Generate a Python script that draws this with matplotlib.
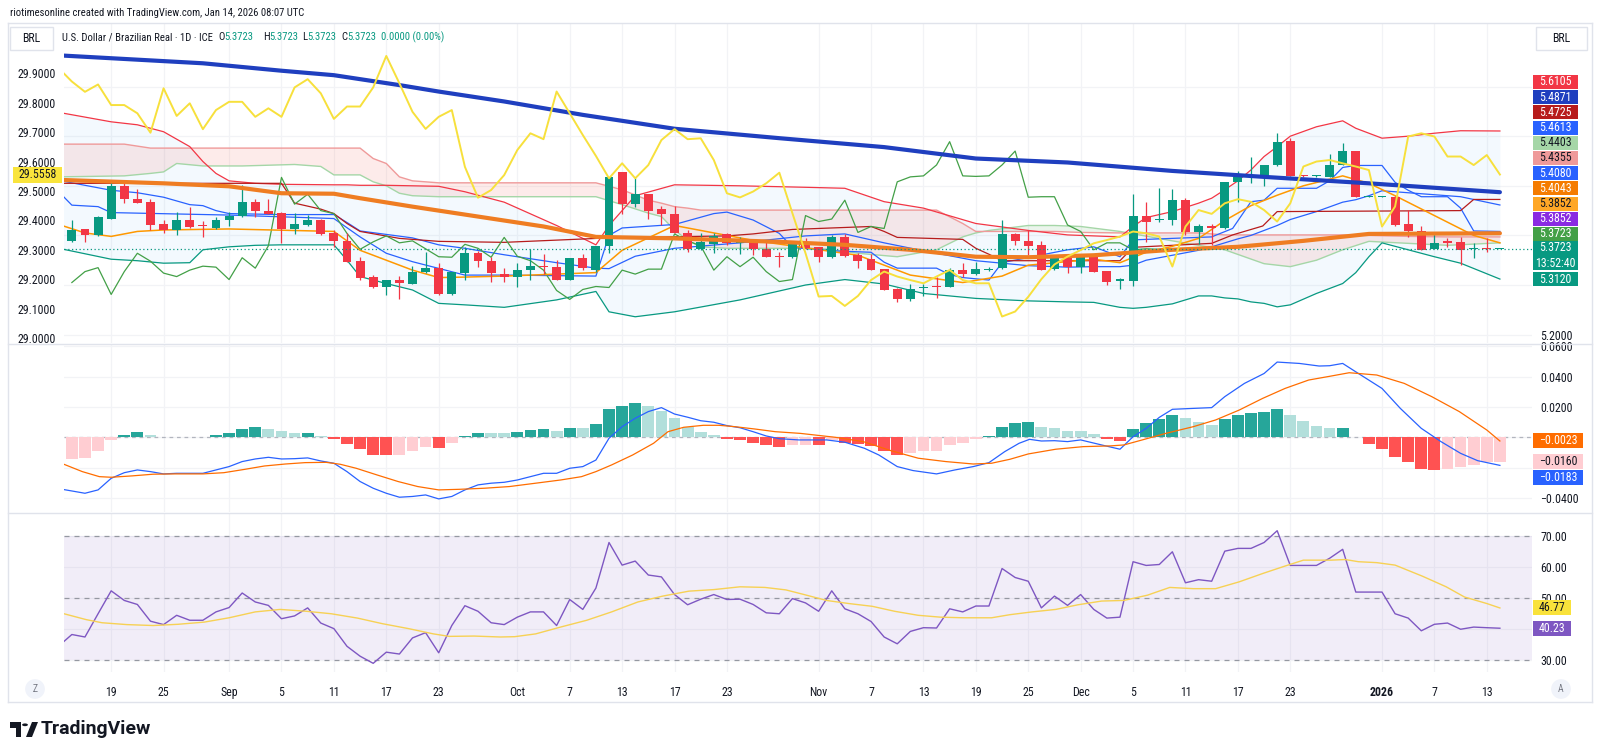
import numpy as np
import matplotlib.pyplot as plt
from matplotlib import font_manager
from matplotlib.patches import Polygon, Circle, Rectangle
from matplotlib.ticker import FuncFormatter, FixedFormatter

names = {f.name for f in font_manager.fontManager.ttflist}
if 'Liberation Sans Narrow' in names:
    FONT, K = 'Liberation Sans Narrow', 1.0
elif 'Roboto Condensed' in names:
    FONT, K = 'Roboto Condensed', 1.0
elif 'Roboto' in names:
    FONT, K = 'Roboto', 0.86
else:
    FONT, K = 'Liberation Sans', 0.86
plt.rcParams['font.family'] = [FONT, 'DejaVu Sans']

W, H = 1600, 756
INK = '#131722'
UP, DN = '#089981', '#F23645'
GRID = '#F2F3F6'
SEP = '#E0E3EB'
FS = 8.6 * K

# ---------------- USD/BRL daily bars, Aug 14 2025 .. Jan 14 2026 ----------------
opens = [5.389, 5.412, 5.400, 5.434, 5.500, 5.473, 5.467, 5.423, 5.410, 5.431,
         5.420, 5.414, 5.432, 5.439, 5.468, 5.450, 5.446, 5.412, 5.421, 5.432,
         5.404, 5.389, 5.348, 5.317, 5.297, 5.310, 5.303, 5.327, 5.335, 5.281,
         5.325, 5.364, 5.349, 5.322, 5.317, 5.330, 5.338, 5.337, 5.311, 5.355,
         5.330, 5.379, 5.527, 5.463, 5.483, 5.454, 5.444, 5.404, 5.372, 5.383,
         5.403, 5.384, 5.389, 5.373, 5.358, 5.356, 5.382, 5.376, 5.356, 5.396,
         5.360, 5.352, 5.332, 5.291, 5.271, 5.294, 5.298, 5.297, 5.330, 5.322,
         5.331, 5.334, 5.403, 5.389, 5.381, 5.332, 5.357, 5.337, 5.356, 5.328,
         5.309, 5.309, 5.440, 5.431, 5.431, 5.471, 5.406, 5.418, 5.414, 5.508,
         5.519, 5.520, 5.542, 5.591, 5.520, 5.519, 5.518, 5.542, 5.570, 5.477,
         5.477, 5.478, 5.423, 5.408, 5.373, 5.389, 5.387, 5.372, 5.373, 5.3723]
highs = [5.431, 5.413, 5.440, 5.508, 5.505, 5.493, 5.473, 5.431, 5.447, 5.457,
         5.430, 5.438, 5.448, 5.502, 5.473, 5.473, 5.448, 5.446, 5.442, 5.434,
         5.411, 5.404, 5.357, 5.320, 5.311, 5.319, 5.338, 5.366, 5.344, 5.327,
         5.377, 5.369, 5.356, 5.334, 5.344, 5.372, 5.363, 5.350, 5.355, 5.363,
         5.379, 5.518, 5.528, 5.518, 5.484, 5.459, 5.459, 5.411, 5.405, 5.405,
         5.405, 5.397, 5.392, 5.386, 5.367, 5.389, 5.395, 5.377, 5.401, 5.403,
         5.365, 5.363, 5.333, 5.293, 5.302, 5.303, 5.317, 5.334, 5.344, 5.347,
         5.336, 5.432, 5.404, 5.411, 5.389, 5.357, 5.358, 5.357, 5.357, 5.329,
         5.315, 5.483, 5.467, 5.496, 5.493, 5.476, 5.424, 5.424, 5.508, 5.529,
         5.559, 5.542, 5.606, 5.596, 5.521, 5.521, 5.565, 5.586, 5.571, 5.479,
         5.479, 5.479, 5.451, 5.418, 5.402, 5.394, 5.396, 5.384, 5.394, 5.3723]
lows = [5.387, 5.386, 5.399, 5.433, 5.465, 5.465, 5.411, 5.404, 5.401, 5.414,
        5.397, 5.413, 5.418, 5.438, 5.438, 5.443, 5.384, 5.403, 5.418, 5.401,
        5.377, 5.346, 5.310, 5.294, 5.279, 5.271, 5.302, 5.324, 5.279, 5.280,
        5.311, 5.337, 5.307, 5.307, 5.297, 5.310, 5.322, 5.310, 5.310, 5.330,
        5.327, 5.364, 5.443, 5.458, 5.434, 5.421, 5.404, 5.367, 5.371, 5.364,
        5.381, 5.362, 5.360, 5.356, 5.336, 5.355, 5.373, 5.346, 5.355, 5.356,
        5.334, 5.330, 5.289, 5.265, 5.268, 5.278, 5.273, 5.295, 5.317, 5.321,
        5.329, 5.333, 5.381, 5.360, 5.330, 5.331, 5.325, 5.325, 5.327, 5.301,
        5.291, 5.298, 5.387, 5.428, 5.421, 5.401, 5.383, 5.381, 5.413, 5.468,
        5.505, 5.500, 5.539, 5.520, 5.518, 5.518, 5.517, 5.541, 5.477, 5.477,
        5.477, 5.418, 5.397, 5.371, 5.372, 5.377, 5.340, 5.354, 5.367, 5.3723]
closes = [5.411, 5.400, 5.438, 5.500, 5.473, 5.466, 5.421, 5.410, 5.431, 5.416,
          5.418, 5.432, 5.440, 5.468, 5.450, 5.444, 5.413, 5.422, 5.432, 5.403,
          5.389, 5.347, 5.315, 5.295, 5.310, 5.305, 5.327, 5.335, 5.281, 5.327,
          5.364, 5.348, 5.324, 5.317, 5.330, 5.338, 5.336, 5.311, 5.355, 5.334,
          5.379, 5.517, 5.463, 5.483, 5.450, 5.444, 5.404, 5.372, 5.387, 5.399,
          5.385, 5.389, 5.373, 5.357, 5.356, 5.382, 5.374, 5.356, 5.396, 5.358,
          5.349, 5.330, 5.289, 5.271, 5.291, 5.297, 5.295, 5.330, 5.322, 5.332,
          5.332, 5.403, 5.389, 5.379, 5.330, 5.357, 5.337, 5.356, 5.327, 5.307,
          5.311, 5.440, 5.428, 5.433, 5.471, 5.406, 5.418, 5.414, 5.508, 5.518,
          5.520, 5.542, 5.589, 5.520, 5.519, 5.520, 5.542, 5.570, 5.477, 5.478,
          5.478, 5.421, 5.408, 5.371, 5.385, 5.385, 5.371, 5.373, 5.372, 5.3723]

# yellow overlay symbol (left scale), one value per bar starting the day before the first bar
overlay = [29.917, 29.872, 29.837, 29.862, 29.792, 29.792, 29.764, 29.698, 29.849, 29.755,
           29.798, 29.710, 29.775, 29.803, 29.803, 29.752, 29.781, 29.752, 29.852, 29.880,
           29.832, 29.745, 29.787, 29.787, 29.852, 29.959, 29.866, 29.769, 29.711, 29.752,
           29.775, 29.582, 29.477, 29.503, 29.554, 29.639, 29.696, 29.676, 29.838, 29.764,
           29.690, 29.619, 29.543, 29.594, 29.543, 29.588, 29.673, 29.710, 29.676, 29.679,
           29.605, 29.492, 29.478, 29.498, 29.526, 29.562, 29.424, 29.288, 29.141, 29.143,
           29.109, 29.143, 29.197, 29.226, 29.209, 29.197, 29.186, 29.209, 29.231, 29.197,
           29.186, 29.186, 29.073, 29.090, 29.140, 29.200, 29.250, 29.277, 29.299, 29.322,
           29.333, 29.345, 29.362, 29.356, 29.345, 29.243, 29.379, 29.435, 29.422, 29.458,
           29.472, 29.463, 29.435, 29.396, 29.458, 29.583, 29.600, 29.605, 29.594, 29.583,
           29.571, 29.379, 29.447, 29.685, 29.696, 29.685, 29.617, 29.617, 29.588, 29.622,
           29.5558]

# moving averages (bar index, value)
ma_long_idx = [-1, 10, 16, 20, 25, 28, 33, 39, 46, 54, 62, 69, 76, 84, 91, 99, 109]
ma_long = [5.763, 5.747, 5.732, 5.723, 5.703, 5.690, 5.670, 5.643, 5.615, 5.596, 5.578,
           5.555, 5.547, 5.530, 5.518, 5.505, 5.4871]
ma_mid_idx = [-1, 7, 12, 16, 20, 22, 26, 30, 33, 36, 40, 46, 54, 59, 64, 69, 73, 78, 84,
              89, 94, 99, 109]
ma_mid = [5.512, 5.505, 5.499, 5.485, 5.484, 5.475, 5.458, 5.442, 5.430, 5.418, 5.397,
          5.394, 5.387, 5.381, 5.371, 5.357, 5.356, 5.360, 5.371, 5.377, 5.389, 5.403, 5.4043]
ema_idx = [-1, 1, 3, 5, 7, 12, 20, 22, 24, 26, 28, 30, 33, 40, 42, 44, 46, 48, 52, 56,
           60, 64, 68, 71, 73, 78, 80, 82, 84, 86, 88, 90, 92, 94, 97, 99, 101, 104, 107, 109]
ema = [5.422, 5.405, 5.398, 5.408, 5.411, 5.413, 5.408, 5.370, 5.350, 5.330,
       5.315, 5.316, 5.318, 5.325, 5.370, 5.395, 5.420, 5.410, 5.390, 5.375,
       5.360, 5.320, 5.305, 5.318, 5.340, 5.352, 5.345, 5.366, 5.378, 5.394,
       5.430, 5.460, 5.481, 5.500, 5.520, 5.505, 5.480, 5.440, 5.400, 5.385]

# bands
bb_idx = [-1, 3, 5, 7, 9, 10, 11, 12, 14, 16, 20, 21, 22, 24, 26, 28, 30, 33, 37, 40,
          41, 43, 46, 51, 56, 59, 62, 65, 69, 73, 76, 78, 80, 81, 82, 84, 86, 87, 88, 89,
          90, 91, 92, 93, 95, 97, 98, 99, 100, 102, 104, 106, 109]
bb_upper = [5.648, 5.629, 5.623, 5.609, 5.579, 5.549, 5.525, 5.510, 5.505, 5.503,
            5.502, 5.502, 5.501, 5.501, 5.500, 5.499, 5.488, 5.467, 5.420, 5.381,
            5.420, 5.480, 5.502, 5.500, 5.497, 5.495, 5.468, 5.455, 5.424, 5.410,
            5.401, 5.399, 5.397, 5.418, 5.436, 5.448, 5.465, 5.475, 5.492, 5.510,
            5.532, 5.559, 5.579, 5.600, 5.619, 5.631, 5.616, 5.606, 5.596, 5.600,
            5.606, 5.611, 5.6105]
bb_lower = [5.374, 5.352, 5.349, 5.344, 5.345, 5.371, 5.374, 5.377, 5.380, 5.381,
            5.381, 5.350, 5.317, 5.303, 5.290, 5.263, 5.260, 5.255, 5.270, 5.287,
            5.246, 5.236, 5.246, 5.270, 5.300, 5.311, 5.302, 5.283, 5.273, 5.268,
            5.266, 5.265, 5.255, 5.253, 5.255, 5.262, 5.278, 5.278, 5.274, 5.272,
            5.266, 5.263, 5.256, 5.260, 5.283, 5.303, 5.325, 5.357, 5.385, 5.371,
            5.357, 5.344, 5.312]
bb_basis = [5.511, 5.491, 5.486, 5.477, 5.462, 5.460, 5.450, 5.444, 5.443, 5.442,
            5.442, 5.426, 5.409, 5.402, 5.395, 5.381, 5.374, 5.361, 5.345, 5.334,
            5.333, 5.358, 5.374, 5.385, 5.399, 5.403, 5.385, 5.369, 5.349, 5.339,
            5.336, 5.337, 5.337, 5.340, 5.350, 5.360, 5.370, 5.377, 5.385, 5.393,
            5.400, 5.410, 5.420, 5.432, 5.448, 5.467, 5.472, 5.480, 5.490, 5.486,
            5.482, 5.478, 5.4613]

# ichimoku
tenkan_idx = [-1, 0, 2, 3, 12, 20, 22, 24, 26, 30, 33, 40, 41, 42, 46, 49, 50, 52, 54, 55,
              58, 61, 62, 63, 66, 67, 68, 70, 71, 76, 78, 80, 81, 87, 88.6, 90, 91, 92, 95, 96,
              97, 98, 100, 101, 102, 103, 105, 106, 107, 109]
tenkan = [5.488, 5.461, 5.458, 5.446, 5.441, 5.434, 5.397, 5.364, 5.347, 5.320,
          5.320, 5.318, 5.400, 5.415, 5.422, 5.444, 5.447, 5.431, 5.404, 5.376,
          5.369, 5.366, 5.346, 5.334, 5.334, 5.321, 5.315, 5.310, 5.345, 5.371,
          5.377, 5.357, 5.391, 5.397, 5.414, 5.468, 5.471, 5.495, 5.495, 5.510,
          5.537, 5.541, 5.541, 5.507, 5.491, 5.478, 5.478, 5.455, 5.409, 5.408]
kijun_idx = [-1, 16, 17, 19, 20, 21, 22, 25, 28, 33, 41, 50, 52, 55, 61, 62, 63, 68, 69,
             70, 71, 80, 81, 87, 88.6, 90.9, 92, 106, 107, 109]
kijun = [5.505, 5.505, 5.465, 5.453, 5.444, 5.424, 5.408, 5.394, 5.388, 5.386,
         5.395, 5.399, 5.403, 5.412, 5.418, 5.408, 5.396, 5.392, 5.374, 5.362,
         5.349, 5.349, 5.376, 5.384, 5.401, 5.419, 5.448, 5.450, 5.4725, 5.4725]
cloud_idx = [-1, 4, 6, 7, 8, 10, 13, 17, 19, 20, 22, 23, 24, 25, 26, 28, 31, 40, 42, 44,
             45, 46, 47, 48, 50, 57, 60, 63, 66, 68, 69, 70, 73, 75, 77, 80, 84, 86, 88, 91,
             93, 95, 97, 99, 102, 105, 109]
span_b = [5.584, 5.584, 5.576, 5.576, 5.576, 5.576, 5.576, 5.576, 5.576, 5.576,
          5.576, 5.555, 5.545, 5.518, 5.510, 5.506, 5.506, 5.506, 5.492, 5.471,
          5.465, 5.458, 5.455, 5.451, 5.451, 5.451, 5.451, 5.451, 5.451, 5.424,
          5.408, 5.408, 5.408, 5.408, 5.406, 5.405, 5.405, 5.405, 5.401, 5.401,
          5.401, 5.401, 5.401, 5.400, 5.398, 5.397, 5.397]
span_a = [5.518, 5.520, 5.525, 5.528, 5.545, 5.540, 5.540, 5.543, 5.539, 5.522,
          5.522, 5.508, 5.500, 5.485, 5.480, 5.478, 5.478, 5.478, 5.462, 5.445,
          5.438, 5.411, 5.390, 5.377, 5.374, 5.374, 5.364, 5.357, 5.371, 5.397,
          5.405, 5.410, 5.420, 5.420, 5.418, 5.408, 5.389, 5.380, 5.371, 5.343,
          5.337, 5.350, 5.371, 5.388, 5.384, 5.380, 5.385]
LAG = 25  # lagging span drawn this many bars back

# MACD (12, 26, 9)
macd_hist = [-0.0143, -0.0132, -0.0086, -0.0016, 0.0017, 0.0036, 0.0017, 0.0005, 0.0006, 0.0003,
             0.0003, 0.0017, 0.0032, 0.0058, 0.0067, 0.0058, 0.0043, 0.0030, 0.0032, 0.0010,
             -0.0008, -0.0042, -0.0077, -0.0112, -0.0117, -0.0115, -0.0086, -0.0060, -0.0067, -0.0038,
             0.0010, 0.0030, 0.0030, 0.0029, 0.0036, 0.0049, 0.0058, 0.0043, 0.0064, 0.0064,
             0.0089, 0.0187, 0.0209, 0.0228, 0.0206, 0.0174, 0.0130, 0.0071, 0.0036, 0.0015,
             -0.0008, -0.0016, -0.0034, -0.0049, -0.0064, -0.0049, -0.0047, -0.0052, -0.0016, -0.0038,
             -0.0042, -0.0055, -0.0086, -0.0115, -0.0100, -0.0090, -0.0086, -0.0049, -0.0034, -0.0008,
             0.0012, 0.0071, 0.0095, 0.0102, 0.0071, 0.0064, 0.0043, 0.0043, 0.0023, -0.0008,
             -0.0021, 0.0058, 0.0095, 0.0119, 0.0148, 0.0126, 0.0102, 0.0080, 0.0124, 0.0148,
             0.0159, 0.0168, 0.0187, 0.0148, 0.0110, 0.0075, 0.0062, 0.0064, 0.0000, -0.0045,
             -0.0073, -0.0128, -0.0163, -0.0205, -0.0213, -0.0209, -0.0192, -0.0181, -0.0163, -0.0160]
macd_idx = [-1, 1, 2, 3, 4, 5, 6, 7, 8, 10, 11, 12, 13, 14, 15, 16, 17, 18, 19, 20,
            21, 22, 23, 24, 25, 26, 27, 28, 29, 30, 31, 32, 33, 34, 35, 36, 37, 38, 39, 40,
            41, 42, 43, 44, 45, 46, 47, 48, 49, 50, 51, 52, 53, 54, 55.5, 57.6, 59, 60.5, 61.6, 63,
            64.2, 66, 67.4, 68.8, 70, 71.2, 72.3, 73.1, 74, 75, 76, 77, 78.6, 80, 81, 82, 83, 84,
            85.6, 87, 88, 89.5, 91, 92, 93.7, 95.2, 96, 97, 98.2, 100, 101.4, 103, 104.5, 106,
            107.3, 109]
macd_line = [-0.0336, -0.0366, -0.0344, -0.0268, -0.0231, -0.0213, -0.0224, -0.0239, -0.0235, -0.0235,
             -0.0213, -0.0191, -0.0158, -0.0141, -0.0130, -0.0141, -0.0139, -0.0134, -0.0154, -0.0169,
             -0.0224, -0.0289, -0.0333, -0.0366, -0.0392, -0.0387, -0.0377, -0.0403, -0.0387, -0.0344,
             -0.0311, -0.0300, -0.0294, -0.0279, -0.0257, -0.0235, -0.0235, -0.0202, -0.0191, -0.0148,
             -0.0005, 0.0071, 0.0126, 0.0170, 0.0196, 0.0154, 0.0133, 0.0110, 0.0100, 0.0078,
             0.0064, 0.0038, 0.0010, -0.0008, -0.0016, -0.0016, -0.0031, -0.0071, -0.0115, -0.0191,
             -0.0217, -0.0239, -0.0213, -0.0191, -0.0165, -0.0093, -0.0038, -0.0012, -0.0023, -0.0021,
             -0.0027, -0.0016, -0.0049, -0.0077, 0.0005, 0.0060, 0.0132, 0.0185, 0.0191, 0.0196,
             0.0268, 0.0355, 0.0420, 0.0495, 0.0486, 0.0469, 0.0471, 0.0486, 0.0420, 0.0322,
             0.0191, 0.0060, -0.0027, -0.0104, -0.0152, -0.0183]
signal_idx = [-0.6, 0.8, 2.1, 3, 4.6, 6.2, 7.8, 10, 11.6, 13.2, 14.7, 16.3, 17.8, 19.4, 20.5,
              21.7, 23.3, 24.9, 26.4, 28, 29.6, 31.5, 33.4, 35.4, 37.3, 38.9, 40, 41.2, 42.8,
              44.4, 45.5, 46.7, 48.2, 49.4, 50.6, 52.1, 53.7, 55.6, 58.3, 60.4, 62.5, 64.6, 66.7,
              68.8, 70.2, 71.6, 73, 75.1, 77.2, 79.3, 80.3, 81.7, 83.5, 85.6, 87.3, 89.1, 90.9,
              92.6, 94.4, 96.1, 97.5, 99.6, 101.7, 103.8, 105.9, 108, 109]
signal_line = [-0.0176, -0.0224, -0.0257, -0.0261, -0.0252, -0.0241, -0.0239, -0.0239, -0.0231,
               -0.0209, -0.0187, -0.0174, -0.0165, -0.0163, -0.0176, -0.0202, -0.0246, -0.0289,
               -0.0322, -0.0344, -0.0340, -0.0333, -0.0322, -0.0300, -0.0279, -0.0257, -0.0224,
               -0.0180, -0.0115, -0.0038, 0.0038, 0.0067, 0.0080, 0.0080, 0.0071, 0.0056, 0.0038,
               0.0027, 0.0001, -0.0027, -0.0086, -0.0136, -0.0158, -0.0174, -0.0169, -0.0143,
               -0.0108, -0.0077, -0.0060, -0.0055, -0.0049, -0.0016, 0.0027, 0.0071, 0.0115,
               0.0180, 0.0257, 0.0322, 0.0377, 0.0403, 0.0425, 0.0410, 0.0355, 0.0268, 0.0170,
               0.0049, -0.0023]

# RSI (14) per bar, starting the day before the first bar, and its moving average
rsi = [34.5, 38.2, 37.4, 44.9, 52.3, 49.2, 47.9, 42.5, 41.4, 44.4, 42.8,
       42.8, 45.5, 46.9, 51.6, 48.7, 47.6, 43.3, 44.2, 46.8, 41.9,
       40.1, 34.4, 31.2, 28.9, 32.5, 31.9, 37.1, 38.8, 32.3, 41.1,
       47.5, 45.7, 42.0, 41.4, 43.8, 45.5, 45.5, 41.1, 49.5, 46.3,
       53.2, 67.9, 60.6, 61.9, 57.4, 56.8, 51.1, 47.8, 49.6, 51.1,
       49.5, 49.6, 47.9, 45.2, 44.9, 49.8, 48.4, 45.7, 52.3, 46.5,
       44.9, 42.4, 37.4, 35.2, 39.2, 40.4, 40.3, 46.5, 45.5, 47.4,
       47.4, 59.5, 56.6, 55.4, 46.8, 50.6, 47.6, 51.1, 46.3, 43.5,
       43.8, 61.7, 60.5, 60.8, 64.9, 54.9, 55.9, 55.4, 65.1, 66.0,
       66.0, 67.9, 71.7, 60.5, 60.5, 60.5, 62.8, 65.7, 51.9, 51.9,
       51.9, 44.9, 43.5, 39.4, 41.5, 41.9, 39.9, 40.6, 40.4, 40.23]
rsi_ma_idx = [-0.6, 1.1, 2.3, 4.2, 6.2, 8.1, 10.1, 12, 14, 15.9, 17.9, 19.8, 21.8, 23.7, 25.7,
              27.6, 28.8, 30.7, 32.7, 33.8, 35.4, 37.3, 39.3, 41.2, 43.2, 45.1, 47.1, 49, 51,
              52.9, 54.5, 55.8, 57.6, 59.3, 61.1, 62.8, 64.6, 66.3, 68.1, 70.2, 71.6, 73.3, 75.1,
              76.8, 78.6, 80.3, 82.1, 83.8, 85.6, 87.3, 89.1, 90.9, 92.6, 94, 96.1, 97.2, 98.2,
              99.6, 101, 103.1, 104.9, 106.3, 108, 109]
rsi_ma = [44.9, 43.0, 42.0, 41.4, 41.1, 41.5, 42.2, 43.6, 45.5, 46.3, 45.7, 44.9, 43.5, 41.7,
          40.1, 38.4, 37.6, 37.7, 37.4, 37.5, 38.4, 40.6, 42.8, 45.5, 48.7, 50.6, 52.2, 52.7,
          53.6, 53.4, 52.6, 51.2, 49.2, 48.2, 47.3, 45.7, 44.4, 43.8, 43.6, 43.6, 44.6, 45.5,
          46.3, 47.8, 49.0, 49.2, 50.9, 53.4, 53.0, 53.0, 55.2, 57.9, 60.3, 62.2, 62.2, 62.4,
          61.7, 61.4, 60.6, 57.0, 53.6, 50.3, 48.2, 46.77]

date_ticks = [3, 7, 12, 16, 20, 24, 28, 34, 38, 42, 46, 50, 57, 61, 65, 69, 73, 77, 81, 85,
              89, 93, 100, 104, 108]
date_labels = ['19', '25', 'Sep', '5', '11', '17', '23', 'Oct', '7', '13', '17', '23', 'Nov',
               '7', '13', '19', '25', 'Dec', '5', '11', '17', '23', '2026', '7', '13']

# ---------------- figure ----------------
fig = plt.figure(figsize=(16, 7.56), dpi=100)
fig.patch.set_facecolor('white')
renderer = fig.canvas.get_renderer()


def frame(l, t, r, b):
    return [l / W, 1 - b / H, (r - l) / W, (b - t) / H]


def fit(s, target):
    # font size that makes string s about target pixels wide
    t = fig.text(0, 0, s, fontsize=10)
    w = t.get_window_extent(renderer=renderer).width
    t.remove()
    return 10 * target / w


ax_p = fig.add_axes(frame(64, 23, 1532, 343))
ax_m = fig.add_axes(frame(64, 345, 1532, 512))
ax_r = fig.add_axes(frame(64, 514, 1532, 672))
ax_o = ax_p.twinx()

x = np.arange(len(closes))
XL = (-0.6, 111.45)
for ax in (ax_p, ax_m, ax_r, ax_o):
    ax.set_xlim(*XL)
    for s in ax.spines.values():
        s.set_visible(False)
    ax.tick_params(axis='both', length=0, labelsize=FS, labelcolor=INK, pad=6)
for ax in (ax_p, ax_m, ax_r):
    ax.set_xticks(date_ticks)
    ax.grid(True, color=GRID, lw=0.9, zorder=0)
    ax.set_axisbelow(True)
    ax.yaxis.tick_right()
ax_o.yaxis.tick_left()
ax_p.tick_params(axis='x', labelbottom=False)
ax_m.tick_params(axis='x', labelbottom=False)

# ---- price panel ----
ax_p.set_ylim(5.1831, 5.8282)
ax_p.set_yticks([5.2, 5.3, 5.4, 5.5, 5.6, 5.7])
ax_p.yaxis.set_major_formatter(FixedFormatter(['5.2000', '', '', '', '', '']))

ax_p.fill_between(bb_idx, bb_lower, bb_upper, color='#2196F3', alpha=0.05, lw=0, zorder=1)
sa, sb = np.array(span_a), np.array(span_b)
ax_p.fill_between(cloud_idx, sa, sb, where=sa >= sb, interpolate=True, color='#43A047',
                  alpha=0.10, lw=0, zorder=1)
ax_p.fill_between(cloud_idx, sa, sb, where=sa < sb, interpolate=True, color='#F44336',
                  alpha=0.10, lw=0, zorder=1)
ax_p.plot(cloud_idx, span_a, color='#A5D6A7', lw=1, zorder=2)
ax_p.plot(cloud_idx, span_b, color='#EF9A9A', lw=1, zorder=2)
ax_p.plot(bb_idx, bb_upper, color='#F23645', lw=0.9, zorder=2)
ax_p.plot(bb_idx, bb_lower, color='#089981', lw=0.9, zorder=2)
ax_p.plot(bb_idx, bb_basis, color='#2962FF', lw=0.9, zorder=2)
ax_p.plot(tenkan_idx, tenkan, color='#2962FF', lw=0.9, zorder=2)
ax_p.plot(kijun_idx, kijun, color='#B71C1C', lw=0.9, zorder=2)
ax_p.plot(x[:-LAG], closes[LAG:], color='#43A047', lw=0.9, zorder=2)
ax_p.plot(ema_idx, ema, color='#FF9800', lw=1.1, zorder=2)

o, h, l, c = (np.array(v) for v in (opens, highs, lows, closes))
col = np.where(c >= o, UP, DN)
ax_p.vlines(x, l, h, colors=col, lw=0.9, zorder=3)
ax_p.bar(x, np.maximum(np.abs(c - o), 0.0022), bottom=np.minimum(o, c), width=0.68,
         color=col, lw=0, zorder=3)

ax_p.plot(ma_long_idx, ma_long, color='#1F3FBF', lw=3.0, zorder=4, solid_capstyle='round')
ax_p.plot(ma_mid_idx, ma_mid, color='#EF7D22', lw=3.0, zorder=4, solid_capstyle='round')
ax_p.axhline(closes[-1], color=UP, lw=0.9, ls=(0, (1, 2)), zorder=4)

ax_o.set_ylim(28.983, 30.071)
ax_o.set_yticks([29.0 + 0.1 * k for k in range(10)])
ax_o.yaxis.set_major_formatter(FuncFormatter(lambda v, p: f'{v:.4f}'))
ax_o.tick_params(axis='y', pad=6)
ax_o.plot(np.arange(-1, len(closes)), overlay, color='#F7E03C', lw=1.4, zorder=5)


def frac(ax, v):
    lo, hi = ax.get_ylim()
    return (v - lo) / (hi - lo)


def tag(ax, yc, s, bg, fg='white', w=45, h=14, x0=1533):
    pos = ax.get_position()
    aw, ah = pos.width * W, pos.height * H
    xf = (x0 - pos.x0 * W) / aw
    ax.add_patch(Rectangle((xf, yc - h / ah / 2), w / aw, h / ah, transform=ax.transAxes,
                           fc=bg, ec='none', clip_on=False, zorder=30))
    ax.text(xf + w / aw / 2, yc, s, transform=ax.transAxes, ha='center', va='center',
            fontsize=FS, color=fg, linespacing=1.25, clip_on=False, zorder=31)


price_tags = [('5.6105', '#F23645', 'white'), ('5.4871', '#1F3FBF', 'white'),
              ('5.4725', '#B71C1C', 'white'), ('5.4613', '#2962FF', 'white'),
              ('5.4403', '#A5D6A7', INK), ('5.4355', '#EF9A9A', INK),
              ('5.4080', '#2962FF', 'white'), ('5.4043', '#F57C00', 'white'),
              ('5.3852', '#FFA726', INK), ('5.3852', '#8A2BE2', 'white'),
              ('5.3723', '#43A047', 'white')]
fp = frac(ax_p, closes[-1])
step = 15.2 / 320
for k, (s, bg, fg) in enumerate(reversed(price_tags), start=1):
    tag(ax_p, fp + k * step, s, bg, fg)
tag(ax_p, fp - 6.5 / 320, f'{closes[-1]:.4f}\n13:52:40', UP, h=29)
tag(ax_p, frac(ax_p, 5.3120), '5.3120', UP)
tag(ax_o, frac(ax_o, overlay[-1]), f'{overlay[-1]:.4f}', '#F9E43C', INK, w=49, h=16, x0=13)

# ---- MACD panel ----
ax_m.set_ylim(-0.0489, 0.0607)
ax_m.set_yticks([-0.04, -0.02, 0.0, 0.02, 0.04, 0.06])
ax_m.yaxis.set_major_formatter(FixedFormatter(['\u22120.0400', '', '', '0.0200', '0.0400', '0.0600']))
hist = np.array(macd_hist)
prev = np.concatenate([[hist[0] - 1e-4], hist[:-1]])
hcol = np.where(hist >= 0, np.where(hist > prev, '#26A69A', '#B2DFDB'),
                np.where(hist > prev, '#FFCDD2', '#FF5252'))
ax_m.bar(x, hist, width=0.9, color=hcol, lw=0, zorder=2)
ax_m.axhline(0, color='#B2B5BE', lw=0.9, ls=(0, (3, 3)), zorder=1)
ax_m.plot(macd_idx, macd_line, color='#2962FF', lw=0.9, zorder=3)
ax_m.plot(signal_idx, signal_line, color='#FF6D00', lw=0.9, zorder=3)
tag(ax_m, frac(ax_m, signal_line[-1]), '\u22120.0023', '#FF6D00', w=50, h=15)
tag(ax_m, frac(ax_m, macd_hist[-1]), '\u22120.0160', '#FFCDD2', INK, w=50, h=15)
tag(ax_m, frac(ax_m, macd_hist[-1]) - 15.5 / 167, '\u22120.0183', '#2962FF', w=50, h=15)

# ---- RSI panel ----
ax_r.set_ylim(26.1, 77.1)
ax_r.set_yticks([30, 40, 50, 60, 70])
ax_r.yaxis.set_major_formatter(FixedFormatter(['30.00', '', '50.00', '60.00', '70.00']))
ax_r.axhspan(30, 70, color='#7E57C2', alpha=0.1, lw=0, zorder=1)
for lvl in (30, 50, 70):
    ax_r.axhline(lvl, color='#9598A1', lw=0.9, ls=(0, (4, 4)), zorder=2)
ax_r.plot(np.arange(-1, len(closes)), rsi, color='#7E57C2', lw=1.0, zorder=3)
ax_r.plot(rsi_ma_idx, rsi_ma, color='#F7D154', lw=1.0, zorder=3)
tag(ax_r, frac(ax_r, rsi_ma[-1]), f'{rsi_ma[-1]:.2f}', '#F9E23B', INK, w=38, h=15)
tag(ax_r, frac(ax_r, rsi[-1]), f'{rsi[-1]:.2f}', '#7E57C2', w=38, h=15)

ax_r.set_xticklabels(date_labels)
ax_r.tick_params(axis='x', pad=10)
for t in ax_r.get_xticklabels():
    if t.get_text() == '2026':
        t.set_fontweight('bold')

# ---- frame, header, footer ----
def fline(x0, y0, x1, y1):
    fig.add_artist(plt.Line2D([x0 / W, x1 / W], [1 - y0 / H, 1 - y1 / H], color=SEP, lw=1))


fline(8, 23, 1592, 23)
fline(8, 344, 1592, 344)
fline(8, 513, 1592, 513)
fline(8, 702, 1592, 702)
fline(8, 23, 8, 702)
fline(1592, 23, 1592, 702)

header = 'riotimesonline created with TradingView.com, Jan 14, 2026 08:07 UTC'
fig.text(10 / W, 1 - 13.5 / H, header, fontsize=fit(header, 293), color=INK,
         va='center', ha='left')

title = 'U.S. Dollar / Brazilian Real \u00b7 1D \u00b7 ICE'
LEG = fit(title, 149)


def piece(x0, y, pieces):
    for s, colr in pieces:
        t = fig.text(x0 / W, 1 - y / H, s, fontsize=LEG, color=colr, va='center', ha='left')
        x0 += t.get_window_extent(renderer=renderer).width


piece(62, 37.5, [(title, INK)])
piece(218, 37.5, [('O', INK), ('5.3723', UP)])
piece(263, 37.5, [('H', INK), ('5.3723', UP)])
piece(302, 37.5, [('L', INK), ('5.3723', UP)])
piece(341, 37.5, [('C', INK), ('5.3723', UP)])
piece(381, 37.5, [('0.0000 (0.00%)', UP)])

for bx, bw in ((10, 43), (1536, 51)):
    fig.add_artist(plt.Rectangle((bx / W, 1 - 50 / H), bw / W, 23 / H, transform=fig.transFigure,
                                 fc='white', ec=SEP, lw=1))
    fig.text((bx + bw / 2) / W, 1 - 38.5 / H, 'BRL', fontsize=FS, color=INK, ha='center',
             va='center')

for bx, s in ((35, 'Z'), (1561, 'A')):
    fig.text(bx / W, 1 - 689 / H, s, fontsize=7 * K, color='#787B86', ha='center', va='center',
             bbox=dict(boxstyle='circle,pad=0.5', fc='#F0F3FA', ec='none'))


def fp_(px, py):
    return (px / W, 1 - py / H)


fig.add_artist(Polygon([fp_(10, 722), fp_(21, 722), fp_(21, 737), fp_(15.5, 737), fp_(15.5, 727.5),
                        fp_(10, 727.5)], closed=True, transform=fig.transFigure, fc=INK, ec='none'))
fig.add_artist(Polygon([fp_(26, 737), fp_(32, 737), fp_(38, 722), fp_(32, 722)], closed=True,
                       transform=fig.transFigure, fc=INK, ec='none'))
fig.add_artist(Circle(fp_(25, 724.8), 2.9 / W, transform=fig.transFigure, fc=INK, ec='none'))
fig.text(41 / W, 1 - 729.5 / H, 'TradingView', fontsize=14, fontweight='bold', color=INK,
         ha='left', va='center', family=['Roboto', 'DejaVu Sans'])

fig.savefig('out.png', dpi=100)
